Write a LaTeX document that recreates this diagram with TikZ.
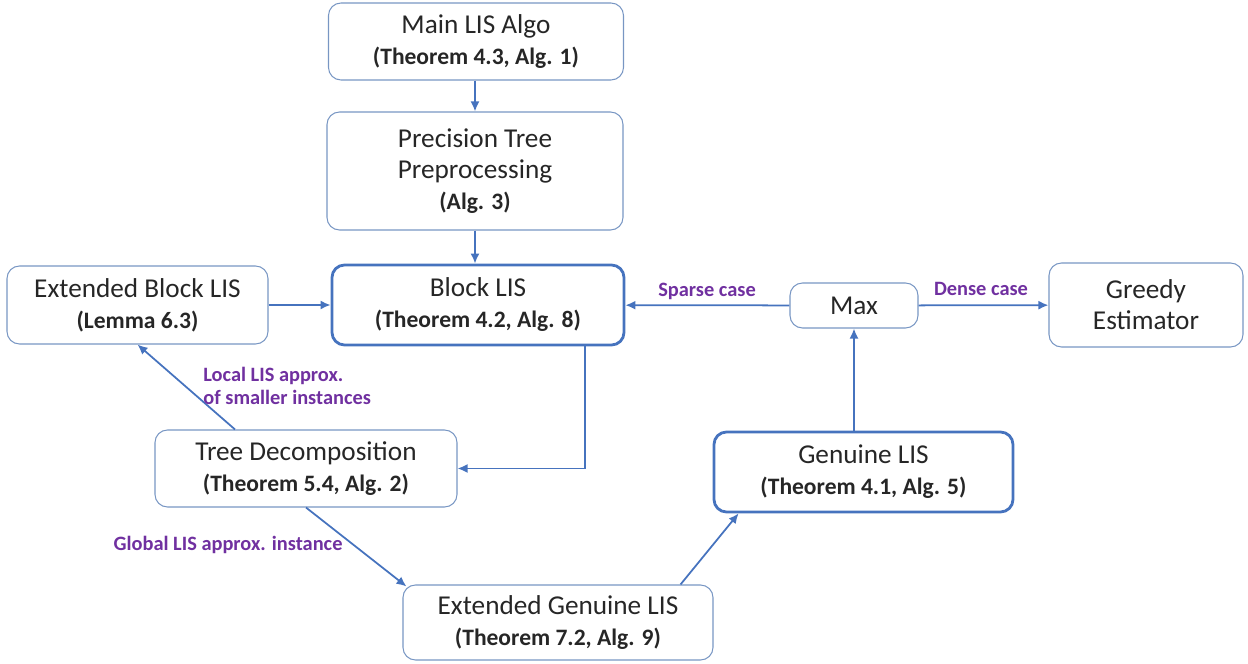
\documentclass[tikz,border=0pt]{standalone}
\usepackage{fontspec}
\setmainfont{Carlito}
\usetikzlibrary{arrows.meta}

\definecolor{boxline}{RGB}{120,150,195}
\definecolor{arrline}{RGB}{70,115,190}
\definecolor{lblpurple}{RGB}{112,48,160}

\newcommand{\srcref}[1]{{\fontsize{13.4}{17}\selectfont\bfseries #1}}

\tikzset{
    box/.style={draw=boxline, line width=0.6pt, rounded corners=2.5mm, align=center,
        inner sep=0pt, text=black!85, font=\fontsize{15.5}{17.6}\selectfont},
    thickbox/.style={box, draw=arrline, line width=1.6pt},
    link/.style={draw=arrline, line width=1pt, -{Latex[length=2mm,width=1.8mm]}},
    lbl/.style={text=lblpurple, font=\fontsize{11.6}{13}\selectfont\bfseries, inner sep=0pt}
}

\begin{document}
\begin{tikzpicture}
    \useasboundingbox (0,0) rectangle (24.96,13.28);

    % boxes
    \node[box, minimum width=5.9cm, minimum height=1.54cm] (main) at (9.52,12.45)
        {Main LIS Algo\\\srcref{(Theorem 4.3, Alg. 1)}};
    \node[box, minimum width=5.92cm, minimum height=2.36cm] (prec) at (9.50,9.86)
        {Precision Tree\\Preprocessing\\\srcref{(Alg. 3)}};
    \node[thickbox, minimum width=5.84cm, minimum height=1.6cm] (blk) at (9.56,7.18)
        {Block LIS\\\srcref{(Theorem 4.2, Alg. 8)}};
    \node[box, minimum width=5.22cm, minimum height=1.56cm] (eblk) at (2.75,7.18)
        {Extended Block LIS\\\srcref{(Lemma 6.3)}};
    \node[box, minimum width=2.56cm, minimum height=0.9cm] (max) at (17.08,7.17) {Max};
    \node[box, minimum width=3.88cm, minimum height=1.68cm] (greedy) at (22.92,7.18)
        {Greedy\\Estimator};
    \node[box, minimum width=6.04cm, minimum height=1.54cm] (tree) at (6.12,3.91)
        {Tree Decomposition\\\srcref{(Theorem 5.4, Alg. 2)}};
    \node[thickbox, minimum width=5.98cm, minimum height=1.6cm] (gen) at (17.27,3.84)
        {Genuine LIS\\\srcref{(Theorem 4.1, Alg. 5)}};
    \node[box, minimum width=6.2cm, minimum height=1.5cm] (egen) at (11.16,0.83)
        {Extended Genuine LIS\\\srcref{(Theorem 7.2, Alg. 9)}};

    % arrows
    \draw[link] (prec.north |- main.south) -- (prec.north);
    \draw[link] (prec.south) -- (prec.south |- blk.north);
    \draw[link] (eblk) -- (blk);
    \draw[link] (max) -- (blk);
    \draw[link] (max) -- (greedy);
    \draw[link] (gen.north -| max.south) -- (max.south);
    \draw[link] (blk.south -| 11.7,0) |- (tree.east);
    \draw[link] ([xshift=-1.42cm]tree.north) -- (eblk.south);
    \draw[link] (tree.south) -- ([xshift=0.08cm,yshift=-0.04cm]egen.north west);
    \draw[link] ([xshift=-0.66cm]egen.north east) -- ([xshift=0.52cm]gen.south west);

    % labels
    \node[lbl] (sparse) at (14.14,7.46) {Sparse case};
    \node[lbl] (dense) at (19.62,7.50) {Dense case};
    \node[lbl, anchor=west, align=left, font=\fontsize{11.6}{13}\selectfont\bfseries] (local) at (4.06,5.56)
        {Local LIS approx.\\of smaller instances};
    \node[lbl] (global) at (4.56,2.38) {Global LIS approx. instance};

\end{tikzpicture}
\end{document}
